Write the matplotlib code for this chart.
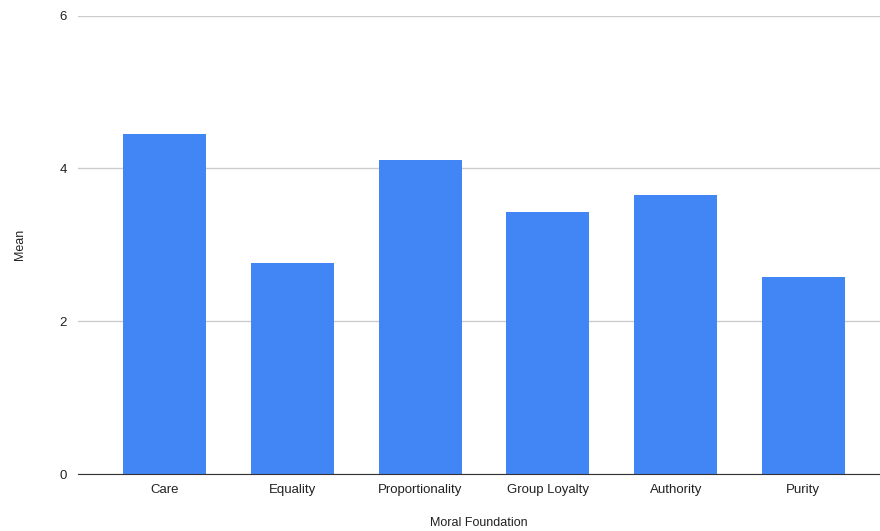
import numpy as np
import matplotlib.pyplot as plt

plt.rcParams['font.family'] = ['Liberation Sans', 'DejaVu Sans']

# --- DATA ---
categories = ["Care", "Equality", "Proportionality", "Group Loyalty", "Authority", "Purity"]
means = [4.45, 2.76, 4.11, 3.43, 3.65, 2.58]
y_ticks = [0, 2, 4, 6]

# --- PLOTTING ---
fig = plt.figure(figsize=(8.8, 5.31), dpi=100)
ax = fig.add_axes([0.0886, 0.1073, 0.9114, 0.8633])

x = np.arange(len(categories))
ax.bar(x, means, width=0.65, color="#4285F4", zorder=3)

ax.set_xlim(-0.68, len(categories) - 0.4)
ax.set_ylim(0, 6)
ax.set_yticks(y_ticks)
ax.set_xticks(x)
ax.set_xticklabels(categories)
ax.tick_params(axis="both", length=0, labelsize=9.5, colors="#222222")
ax.tick_params(axis="y", pad=8)
ax.tick_params(axis="x", pad=7)

ax.grid(axis="y", color="#cccccc", linewidth=1, zorder=0)
for side in ["top", "right", "left"]:
    ax.spines[side].set_visible(False)
ax.spines["bottom"].set_color("#333333")
ax.spines["bottom"].set_zorder(4)

ax.set_xlabel("Moral Foundation", fontsize=9, color="#222222", labelpad=15)
ax.set_ylabel("Mean", fontsize=9, color="#222222", labelpad=24)

fig.savefig("out.png", dpi=100)
